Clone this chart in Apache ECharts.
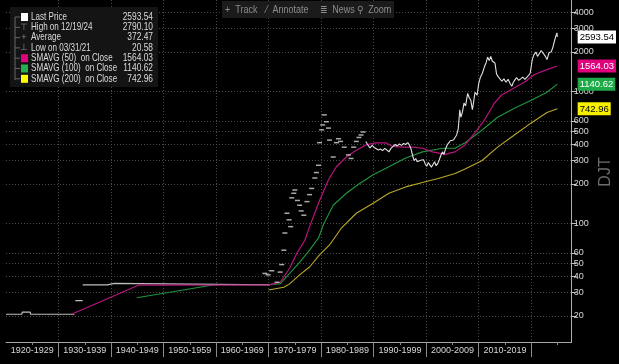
<!DOCTYPE html>
<html><head><meta charset="utf-8">
<script src="https://cdn.jsdelivr.net/npm/echarts@6/dist/echarts.min.js"></script>
<style>html,body{margin:0;padding:0;background:#000;}#c{width:619px;height:364px;}</style>
</head><body><div id="c"></div>
<script>
// ---------- data ----------
const decadeStarts = [1920,1930,1940,1950,1960,1970,1980,1990,2000,2010];
const decadeLabels = ['1920-1929','1930-1939','1940-1949','1950-1959','1960-1969','1970-1979','1980-1989','1990-1999','2000-2009','2010-2019'];
const decadeSeparators = [1930,1940,1950,1960,1970,1980,1990,2000,2010,2020];
const midTicks = [1925,1935,1945,1955,1965,1975,1985,1995,2005,2015,2025];
const yTickValues = [20,30,40,50,60,100,200,300,400,500,600,1000,2000,3000,4000];

// Last Price: 1920s flat segment
const priceAYears = [1920, 1923.0, 1923.1, 1924.6, 1924.7, 1933.0];
const priceA      = [20.6, 20.6, 21.4, 21.4, 20.6, 20.6];
// short step
const priceBYears = [1933.2, 1934.6];
const priceB      = [26.1, 26.1];
// 1934-1970 flat
const priceCYears = [1934.6, 1939.3, 1939.4, 1940.6, 1940.7, 1970.3];
const priceC      = [34.4, 34.4, 35.3, 35.3, 34.4, 34.4];
// sparse dashes 1969-1988
const priceDYears = [1969.3,1969.9,1970.6,1971.6,1972.2,1972.5,1972.9,1973.1,1973.5,1973.9,1974.2,1974.4,1974.8,1975.0,1975.5,1975.9,1976.2,1976.7,1977.3,1977.8,1978.2,1978.8,1979.1,1979.5,1979.7,1980.1,1980.3,1980.6,1981.0,1981.4,1981.6,1982.3,1982.9,1983.3,1983.7,1984.4,1985.2,1985.7,1986.2,1986.7,1987.2,1987.6,1988.0];
const priceD      = [42,41,44,36,43,49,63,85,120,107,95,157,170,180,150,138,125,116,147,166,185,222,244,277,411,514,560,667,592,530,430,320,411,440,420,380,332,312,380,420,450,470,495];
// continuous 1988-2024
const priceEYears = [1988.5,1988.9,1989.3,1989.7,1990.1,1990.5,1990.9,1991.3,1991.7,1992.1,1992.5,1992.9,1993.3,1993.7,1994.1,1994.5,1994.9,1995.3,1995.7,1996.1,1996.5,1996.8,1997.1,1997.4,1997.7,1998.0,1998.3,1998.6,1998.9,1999.2,1999.5,1999.8,2000.1,2000.4,2000.7,2001.0,2001.3,2001.6,2001.9,2002.2,2002.5,2002.8,2003.1,2003.4,2003.7,2004.0,2004.3,2004.6,2004.9,2005.2,2005.5,2005.8,2006.1,2006.4,2006.6,2006.9,2007.2,2007.5,2007.9,2008.2,2008.5,2008.8,2009.0,2009.3,2009.7,2010.0,2010.3,2010.7,2011.1,2011.4,2011.7,2012.0,2012.3,2012.6,2012.9,2013.1,2013.4,2013.7,2014.0,2014.4,2014.8,2015.2,2015.6,2016.0,2016.3,2016.6,2016.9,2017.2,2017.6,2018.0,2018.4,2018.8,2019.1,2019.5,2019.8,2020.2,2020.5,2020.9,2021.2,2021.5,2021.9,2022.3,2022.7,2023.0,2023.4,2023.8,2024.1,2024.4,2024.7,2024.9,2024.97];
const priceE      = [420,395,375,392,378,370,362,368,358,372,362,350,372,385,398,388,402,392,405,398,412,395,370,330,300,312,295,285,302,292,305,285,272,290,282,268,275,295,275,285,305,330,350,335,370,395,410,425,440,430,450,470,520,730,640,700,820,780,970,900,860,730,820,990,940,1150,1280,1380,1550,1650,1830,1720,1850,1700,1760,1650,1360,1300,1280,1200,1250,1180,1240,1150,1100,1180,1230,1280,1220,1250,1290,1240,1280,1330,1380,1750,1900,2000,1850,1900,2050,1950,1850,1750,1980,2000,2150,2400,2650,2790,2593.54];

const sma50Years = [1932.6,1945.2,1970.0,1972.2,1974.0,1975.4,1976.9,1977.8,1979.7,1981.4,1982.9,1984.8,1986.7,1988.5,1990.4,1992.3,1993.6,1995.5,1997.4,1999.3,2001.2,2003.6,2005.5,2007.4,2009.3,2011.1,2013.0,2014.3,2016.8,2018.7,2020.6,2023.0,2024.97];
const sma50      = [20.7,34.2,34.4,36,46,60,75,95,150,215,270,320,360,395,410,410,385,380,380,373,350,335,350,395,490,610,820,940,1070,1180,1350,1470,1564.03];

const sma100Years = [1944.9,1959.7,1970.0,1972.2,1974.0,1975.9,1977.8,1979.5,1980.5,1982.3,1984.8,1987.2,1989.9,1992.9,1996.1,1999.3,2003.1,2005.5,2007.4,2010.6,2013.6,2016.8,2020.0,2023.0,2024.97];
const sma100      = [27.5,34.5,34.6,35,42,51,63,78,100,138,170,200,235,270,315,350,373,373,410,510,640,750,860,990,1140.62];

const sma200Years = [1970.0,1972.9,1974.0,1975.9,1977.8,1979.7,1981.6,1983.8,1986.7,1989.9,1992.9,1996.1,1999.3,2002.3,2005.5,2007.4,2010.6,2013.6,2016.8,2020.0,2023.0,2024.97];
const sma200      = [31.5,33,35,41,47,58,69,92,120,143,170,190,205,220,240,260,300,380,470,580,695,742.96];

const legendNames  = ['Last Price','High on 12/19/24','Average','Low on 03/31/21','SMAVG (50)  on Close','SMAVG (100)  on Close','SMAVG (200)  on Close'];
const legendValues = ['2593.54','2790.10','372.47','20.58','1564.03','1140.62','742.96'];
const tagValues = [2593.54, 1564.03, 1140.62, 742.96];
const toolbarItems = ['+  Track','⁄  Annotate','≣  News','⚲  Zoom'];

// ---------- config ----------
const X_MIN = 1920, X_MAX = 2027.7;
const Y_MIN = 12.7, Y_MAX = 4950;
const FONT = "'Liberation Sans',Arial,sans-serif";
const C_50 = '#b8147c', C_100 = '#1f9640', C_200 = '#bba829';
const tagStyles = [
  {bg:'#ffffff', fg:'#000'}, {bg:'#e0007d', fg:'#fff'}, {bg:'#1eaa48', fg:'#fff'}, {bg:'#f5f000', fg:'#000'}
];

const zip = (xs, ys) => xs.map((x,i)=>[x, ys[i]]);
const L = Math.log10;

const chart = echarts.init(document.getElementById('c'), null, {renderer:'canvas'});

function lineSeries(name, xs, ys, color, w){
  return {type:'line', name, xAxisIndex:0, yAxisIndex:0, data: zip(xs, ys), showSymbol:false, symbol:'none',
    lineStyle:{color, width:w}, itemStyle:{color}, animation:false, silent:true, z: 3};
}

const tagRich = {};
tagStyles.forEach((s,i)=>{ tagRich['t'+i] = {backgroundColor:s.bg, color:s.fg, padding:[2,2,1,2], fontSize:9.5, fontFamily:FONT, lineHeight:11}; });

const SXN = 0.77, SXV = 0.8;
const legendGraphics = [];
legendGraphics.push({type:'rect', shape:{x:10,y:7,width:148,height:80}, style:{fill:'#141414'}, z:100});
legendGraphics.push({type:'line', shape:{x1:15,y1:17,x2:15,y2:80}, style:{stroke:'#666', lineWidth:1}, z:101});
const iconColors = [null,null,null,null,'#e6007e','#22b14c','#ffff00'];
const iconGlyphs = [null,'⊤','+','⊥',null,null,null];
legendNames.forEach((n,i)=>{
  const y = 17 + i*10.3;
  legendGraphics.push({type:'line', shape:{x1:15,y1:y,x2:20,y2:y}, style:{stroke:'#666', lineWidth:1}, z:101});
  if (i===0) legendGraphics.push({type:'rect', shape:{x:21,y:y-4,width:7,height:8}, style:{fill:'#fff'}, z:102});
  else if (iconColors[i]) legendGraphics.push({type:'rect', shape:{x:21,y:y-4,width:7,height:8}, style:{fill:iconColors[i]}, z:102});
  else legendGraphics.push({type:'text', x:24, y:y, style:{text:iconGlyphs[i], fill:'#888', font:'9px '+FONT, align:'center', verticalAlign:'middle'}, z:102});
  legendGraphics.push({type:'text', x:31, y:y, scaleX:SXN, style:{text:n, fill:'#dcdcdc', font:'10.5px '+FONT, verticalAlign:'middle'}, z:102});
  legendGraphics.push({type:'text', x:153, y:y, scaleX:SXV, style:{text:legendValues[i], fill:'#dcdcdc', font:'10.5px '+FONT, align:'right', verticalAlign:'middle'}, z:102});
});
// toolbar
legendGraphics.push({type:'rect', shape:{x:222,y:1,width:172,height:17}, style:{fill:'#1b1b1b'}, z:100});
const tbX = [225, 266, 320, 357];
toolbarItems.forEach((t,i)=>{
  legendGraphics.push({type:'text', x:tbX[i], y:10, scaleX:0.9, style:{text:t, fill:'#8c8c8c', font:'10px '+FONT, verticalAlign:'middle'}, z:101});
});
// vertical ticker text
legendGraphics.push({type:'text', x:606, y:172, rotation:Math.PI/2, style:{text:'DJT', fill:'#6e6e6e', font:'16px '+FONT, align:'center', verticalAlign:'middle'}, z:101});

const option = {
  backgroundColor:'#000',
  animation:false,
  grid:{left:6, right:41, top:0, bottom:22, containLabel:false},
  xAxis:[
    {type:'value', min:X_MIN, max:X_MAX,
     axisLine:{show:true, lineStyle:{color:'#a8a8a8', width:1}},
     axisTick:{show:true, customValues:decadeSeparators, length:15, lineStyle:{color:'#8a8a8a'}},
     axisLabel:{show:true, customValues: decadeStarts.map(d=>d+5), margin:4, color:'#d8d8d8', fontSize:9, fontFamily:FONT,
       formatter: v => decadeLabels[decadeStarts.indexOf(Math.round(v-5))] || ''},
     splitLine:{show:true, lineStyle:{color:'#4a4a4a', type:[1,2], width:1}}},
    {type:'value', min:X_MIN, max:X_MAX, position:'bottom',
     axisLine:{show:false}, axisLabel:{show:false}, splitLine:{show:false},
     axisTick:{show:true, customValues:midTicks, length:3, lineStyle:{color:'#8a8a8a'}}}
  ],
  yAxis:[
    {type:'log', logBase:10, min:Y_MIN, max:Y_MAX, show:false, splitLine:{show:false}},
    {type:'value', position:'right', min:L(Y_MIN), max:L(Y_MAX),
     axisLine:{show:true, lineStyle:{color:'#b0b0b0', width:1}},
     axisTick:{show:true, customValues:yTickValues.map(L), length:5, lineStyle:{color:'#c0c0c0'}},
     axisLabel:{show:true, customValues:yTickValues.map(L), margin:2, color:'#d8d8d8', fontSize:9, fontFamily:FONT,
       formatter: v => String(Math.round(Math.pow(10, v)))},
     splitLine:{show:true, lineStyle:{color:'#4a4a4a', type:[1,2], width:1}}},
    {type:'value', position:'right', min:L(Y_MIN), max:L(Y_MAX),
     axisLine:{show:false}, axisTick:{show:false}, splitLine:{show:false},
     axisLabel:{show:true, customValues:tagValues.map(L), margin:6, fontSize:9.5, fontFamily:FONT, rich:tagRich,
       formatter: v => { let best=0, d=1e9; tagValues.forEach((t,i)=>{const dd=Math.abs(L(t)-v); if(dd<d){d=dd;best=i;}}); return '{t'+best+'|'+tagValues[best].toFixed(2)+'}'; }}}
  ],
  series:[
    lineSeries('SMAVG (200)', sma200Years, sma200, C_200, 1.1),
    lineSeries('SMAVG (100)', sma100Years, sma100, C_100, 1.1),
    lineSeries('Last Price A', priceAYears, priceA, '#bdbdbd', 1.2),
    lineSeries('Last Price B', priceBYears, priceB, '#bdbdbd', 1.2),
    lineSeries('Last Price C', priceCYears, priceC, '#bdbdbd', 1.2),
    lineSeries('SMAVG (50)', sma50Years, sma50, C_50, 1.2),
    {type:'scatter', name:'Last Price D', xAxisIndex:0, yAxisIndex:0, data: zip(priceDYears, priceD),
     symbol:'rect', symbolSize:[5,1.5], itemStyle:{color:'#d4d4d4'}, silent:true, z:4},
    lineSeries('Last Price E', priceEYears, priceE, '#e0e0e0', 1.1)
  ],
  graphic: legendGraphics
};
chart.setOption(option);
</script>
</body></html>
